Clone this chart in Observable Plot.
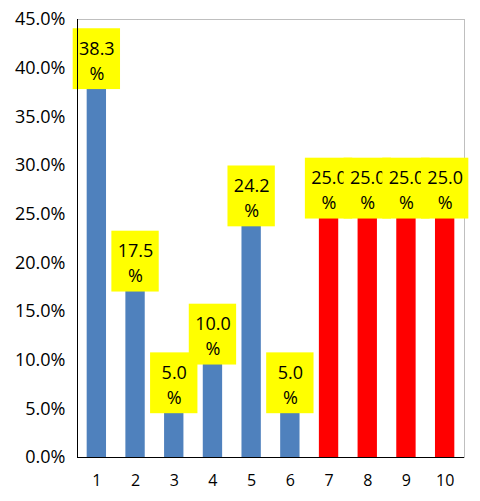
<!DOCTYPE html>
<html>
<head>
<meta charset="utf-8">
<script src="https://cdn.jsdelivr.net/npm/d3@7"></script>
<script src="https://cdn.jsdelivr.net/npm/@observablehq/plot@0.6"></script>
<style>
  html, body { margin: 0; padding: 0; background: #fff; }
  #chart svg { display: block; }
</style>
</head>
<body>
<div id="chart"></div>
<script>
const categories = ["1", "2", "3", "4", "5", "6", "7", "8", "9", "10"];
const values = [38.3, 17.5, 5.0, 10.0, 24.2, 5.0, 25.0, 25.0, 25.0, 25.0];
const groups = ["a", "a", "a", "a", "a", "a", "b", "b", "b", "b"];
const yTicks = [0, 5, 10, 15, 20, 25, 30, 35, 40, 45];

const rows = categories.map((c, i) => ({cat: c, v: values[i], g: groups[i]}));

const labelMarks = rows.flatMap(d => [
  Plot.barY([d], {
    x: "cat",
    y1: r => r.v - 0.5,
    y2: r => r.v + 5.75,
    fill: "#ffff00",
    insetLeft: -14,
    insetRight: -14
  }),
  Plot.text([d], {
    x: "cat",
    y: r => r.v + 2.625,
    text: r => r.v.toFixed(1) + "\n%",
    fontSize: 18,
    lineHeight: 1.39,
    fill: "#000"
  })
]);

const chart = Plot.plot({
  width: 480,
  height: 501,
  marginLeft: 77,
  marginRight: 16,
  marginTop: 19,
  marginBottom: 44,
  style: {fontFamily: "'Open Sans', sans-serif", background: "#fff"},
  x: {domain: categories, paddingInner: 0.5, paddingOuter: 0.25, round: false, label: null},
  y: {domain: [0, 45], label: null},
  color: {domain: ["a", "b"], range: ["#4f81bd", "#ff0000"]},
  marks: [
    Plot.frame({stroke: "#bfbfbf"}),
    Plot.barY(rows, {x: "cat", y: "v", fill: "g"}),
    ...labelMarks,
    Plot.frame({anchor: "left", stroke: "#000"}),
    Plot.ruleY([0], {stroke: "#000"}),
    Plot.axisY(yTicks, {tickSize: 0, tickPadding: 12, fontSize: 18, fill: "#000", label: null,
      tickFormat: d => d.toFixed(1) + "%"}),
    Plot.axisX({tickSize: 0, tickPadding: 17, fontSize: 16, fill: "#000", label: null})
  ]
});
document.getElementById("chart").append(chart);
</script>
</body>
</html>
